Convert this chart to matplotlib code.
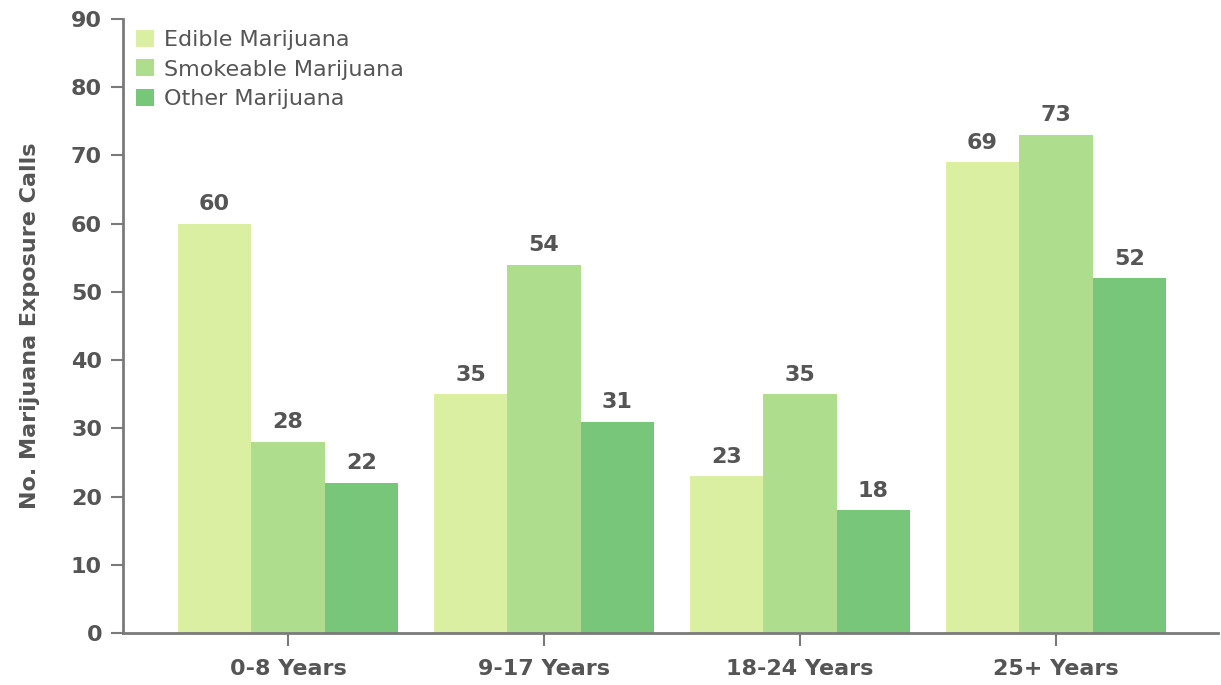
import matplotlib
matplotlib.use("Agg")
import matplotlib.pyplot as plt
import numpy as np

categories = ["0-8 Years", "9-17 Years", "18-24 Years", "25+ Years"]
series_names = ["Edible Marijuana", "Smokeable Marijuana", "Other Marijuana"]
edible = [60, 35, 23, 69]
smokeable = [28, 54, 35, 73]
other = [22, 31, 18, 52]
colors = ["#daefa1", "#aedd8e", "#78c67a"]

TEXT = "#555555"
AXIS = "#7a7a7a"

plt.rcParams["font.family"] = ["DejaVu Sans"]

fig = plt.figure(figsize=(12.21, 6.85), dpi=100)
ax = fig.add_axes([0.1007, 0.0759, 0.8968, 0.8964])

x = np.arange(len(categories))
width = 0.2867
for i, (name, vals) in enumerate(zip(series_names, [edible, smokeable, other])):
    pos = x + (i - 1) * width
    ax.bar(pos, vals, width, color=colors[i], label=name, linewidth=0)
    for px, v in zip(pos, vals):
        ax.text(px, v + 1.4, str(v), ha="center", va="bottom",
                fontsize=16, fontweight="bold", color=TEXT)

ax.set_xlim(-0.645, 3.633)
ax.set_ylim(0, 90)
ax.set_yticks(range(0, 91, 10))
ax.set_xticks(x)
ax.set_xticklabels(categories)

for s in ["top", "right"]:
    ax.spines[s].set_visible(False)
for s in ["left", "bottom"]:
    ax.spines[s].set_color(AXIS)
    ax.spines[s].set_linewidth(2)

ax.tick_params(axis="both", colors=AXIS, length=9, width=1.5,
               labelcolor=TEXT, labelsize=16)
for lbl in ax.get_xticklabels() + ax.get_yticklabels():
    lbl.set_fontweight("bold")
ax.tick_params(axis="x", pad=10)
ax.tick_params(axis="y", pad=6)

ax.set_ylabel("No. Marijuana Exposure Calls", fontsize=16, fontweight="bold",
              color=TEXT, labelpad=22)

leg = ax.legend(loc="upper left", bbox_to_anchor=(0.0, 1.004), frameon=False,
                fontsize=16, handlelength=0.8, handleheight=0.8,
                handletextpad=0.45, labelspacing=0.42, borderaxespad=0.2)
for t in leg.get_texts():
    t.set_color(TEXT)

fig.savefig("out.png", dpi=100)
